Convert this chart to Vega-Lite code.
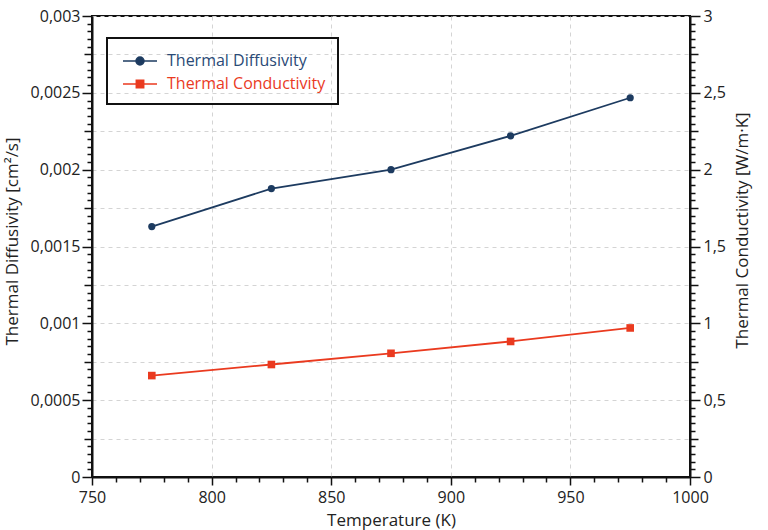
{
  "$schema": "https://vega.github.io/schema/vega-lite/v6.json",
  "autosize": "none",
  "width": 598,
  "height": 461,
  "padding": {"left": 92, "top": 16, "right": 78, "bottom": 53},
  "data": {
    "values": [
      {"temp": 775, "diffusivity": 0.00163, "conductivity": 0.66},
      {"temp": 825, "diffusivity": 0.001877, "conductivity": 0.732},
      {"temp": 875, "diffusivity": 0.002, "conductivity": 0.805},
      {"temp": 925, "diffusivity": 0.00222, "conductivity": 0.882},
      {"temp": 975, "diffusivity": 0.002468, "conductivity": 0.97}
    ]
  },
  "encoding": {
    "x": {
      "field": "temp",
      "type": "quantitative",
      "title": "Temperature (K)",
      "scale": {"domain": [750, 1000], "nice": false, "zero": false},
      "axis": {
        "tickCount": 25,
        "labelExpr": "datum.value % 50 === 0 ? toString(datum.value) : ''",
        "tickSize": {"condition": {"test": "datum.value % 50 === 0", "value": 8}, "value": 5},
        "gridOpacity": {"condition": {"test": "datum.value % 50 === 0", "value": 1}, "value": 0},
        "labelPadding": 4,
        "titleY": 43,
        "titleBaseline": "middle"
      }
    }
  },
  "layer": [
    {
      "mark": {"type": "line", "color": "#1d3b60", "strokeWidth": 1.8,
        "point": {"filled": true, "shape": "circle", "size": 52, "color": "#1d3b60"}},
      "encoding": {
        "y": {
          "field": "diffusivity",
          "type": "quantitative",
          "title": "Thermal Diffusivity [cm²/s]",
          "scale": {"domain": [0, 0.003], "nice": false},
          "axis": {
            "orient": "left",
            "tickCount": 60,
            "labelExpr": "abs(datum.value / 0.0005 - round(datum.value / 0.0005)) < 1e-6 ? replace(toString(datum.value), '.', ',') : ''",
            "tickSize": {"condition": [
              {"test": "abs(datum.value / 0.0005 - round(datum.value / 0.0005)) < 1e-6", "value": 10},
              {"test": "abs(datum.value / 0.00025 - round(datum.value / 0.00025)) < 1e-6", "value": 8}
            ], "value": 5},
            "gridOpacity": {"condition": {"test": "abs(datum.value / 0.00025 - round(datum.value / 0.00025)) < 1e-6", "value": 1}, "value": 0},
            "labelPadding": 2,
            "titleX": -80,
            "titleY": 225,
            "titleBaseline": "middle"
          }
        },
        "color": {
          "datum": "Thermal Diffusivity",
          "type": "nominal",
          "scale": {"domain": ["Thermal Diffusivity", "Thermal Conductivity"], "range": ["#1d3b60", "#ea3a1f"]},
          "legend": {
            "title": null,
            "orient": "none",
            "legendX": 15,
            "legendY": 22,
            "padding": 12,
            "strokeColor": "#111",
            "symbolSize": 400,
            "symbolStrokeWidth": 1.5,
            "symbolOffset": 10,
            "labelOffset": 16,
            "rowPadding": 4,
            "labelFontSize": 16,
            "labelFont": "Open Sans",
            "encode": {
              "legend": {"update": {"strokeWidth": {"value": 2}}},
              "symbols": {"update": {
                "shape": {"signal": "datum.value === 'Thermal Diffusivity' ? 'M-1.7,0L1.7,0M-0.4,0A0.4,0.4,0,1,1,0.4,0A0.4,0.4,0,1,1,-0.4,0Z' : 'M-1.7,0L1.7,0M-0.37,-0.37L0.37,-0.37L0.37,0.37L-0.37,0.37Z'"},
                "fill": {"signal": "datum.value === 'Thermal Diffusivity' ? '#1d3b60' : '#ea3a1f'"},
                "stroke": {"signal": "datum.value === 'Thermal Diffusivity' ? '#1d3b60' : '#ea3a1f'"},
                "opacity": {"value": 1}
              }},
              "labels": {"update": {
                "fill": {"signal": "datum.value === 'Thermal Diffusivity' ? '#2a4a76' : '#ea3a1f'"}
              }}
            }
          }
        }
      }
    },
    {
      "mark": {"type": "line", "color": "#ea3a1f", "strokeWidth": 1.8,
        "point": {"filled": true, "shape": "square", "size": 58, "color": "#ea3a1f"}},
      "encoding": {
        "y": {
          "field": "conductivity",
          "type": "quantitative",
          "title": "Thermal Conductivity  [W/m·K]",
          "scale": {"domain": [0, 3], "nice": false},
          "axis": {
            "orient": "right",
            "grid": false,
            "tickCount": 60,
            "labelExpr": "abs(datum.value * 2 - round(datum.value * 2)) < 1e-6 ? replace(toString(datum.value), '.', ',') : ''",
            "tickSize": {"condition": [
              {"test": "abs(datum.value * 2 - round(datum.value * 2)) < 1e-6", "value": 10},
              {"test": "abs(datum.value * 4 - round(datum.value * 4)) < 1e-6", "value": 8}
            ], "value": 5},
            "labelPadding": 3,
            "titleX": 52,
            "titleY": 214,
            "titleAngle": 270,
            "titleBaseline": "middle"
          }
        },
        "color": {"datum": "Thermal Conductivity", "type": "nominal"}
      }
    }
  ],
  "resolve": {"scale": {"y": "independent"}, "axis": {"y": "independent"}},
  "config": {
    "font": "Open Sans",
    "view": {"stroke": "#111", "strokeWidth": 2},
    "axis": {
      "labelFont": "Open Sans",
      "labelFontSize": 16,
      "labelColor": "#222",
      "labelOverlap": false,
      "labelFlush": false,
      "titleFont": "Open Sans",
      "titleFontSize": 17,
      "titleFontWeight": "normal",
      "titleColor": "#222",
      "domainColor": "#111",
      "domainWidth": 2,
      "tickColor": "#111",
      "tickWidth": 1.5,
      "grid": true,
      "gridColor": "#d4d4d4",
      "gridDash": [4, 4],
      "gridWidth": 1
    }
  }
}
